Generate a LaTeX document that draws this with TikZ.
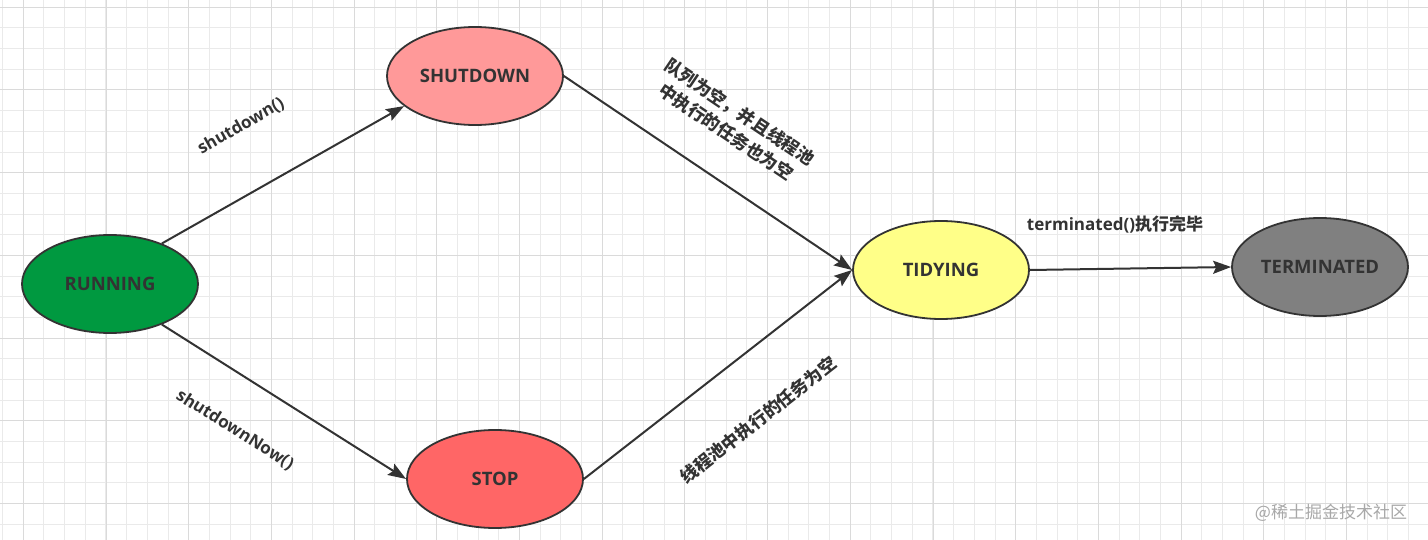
\documentclass[tikz,border=0pt]{standalone}
\usepackage{fontspec}
\setmainfont{Open Sans}
\newfontfamily\cjk{Noto Sans CJK SC}
\usetikzlibrary{arrows.meta,shapes.geometric}
\definecolor{linec}{HTML}{333333}
\definecolor{textc}{HTML}{333333}
\definecolor{cRun}{HTML}{009940}
\definecolor{cShut}{HTML}{FF9999}
\definecolor{cStop}{HTML}{FF6666}
\definecolor{cTidy}{HTML}{FFFF88}
\definecolor{cTerm}{HTML}{808080}
\definecolor{gridminor}{HTML}{EAEAEA}
\definecolor{gridmajor}{HTML}{DADADA}
\definecolor{wmc}{HTML}{A8A8A8}
\tikzset{
  stnode/.style={ellipse, draw=linec, line width=1.8pt, minimum width=176pt, minimum height=98pt,
    inner sep=0pt, text=textc, font=\bfseries\fontsize{18.5}{22}\selectfont},
  conn/.style={draw=linec, line width=2pt, -{Stealth[length=18pt,width=13pt,inset=3pt]}},
  lbl/.style={inner sep=0pt, text=textc, font=\bfseries\fontsize{17}{24}\selectfont},
  wm/.style={inner sep=0pt, text=wmc, font=\cjk\fontsize{17}{20}\selectfont},
  gminor/.style={draw=gridminor, line width=1pt},
  gmajor/.style={draw=gridmajor, line width=1pt}
}
\begin{document}
\begin{tikzpicture}[x=1pt,y=-1pt]
\useasboundingbox (0,0) rectangle (1428,540);
\begin{scope}
\clip (0,0) rectangle (1428,540);
\fill[white] (0,0) rectangle (1428,540);
\foreach \i in {0,...,69} {\pgfmathsetmacro\xx{2.6+20.675*\i}\draw[gminor] (\xx,0) -- (\xx,540);}
\foreach \j in {0,...,26} {\pgfmathsetmacro\yy{7.3+20.675*\j}\draw[gminor] (0,\yy) -- (1428,\yy);}
\foreach \i in {0,...,17} {\pgfmathsetmacro\xx{23.3+82.7*\i}\draw[gmajor] (\xx,0) -- (\xx,540);}
\foreach \j in {0,...,6} {\pgfmathsetmacro\yy{7.3+82.7*\j}\draw[gmajor] (0,\yy) -- (1428,\yy);}
\end{scope}

\node[stnode, fill=cRun] (run) at (110,284) {RUNNING};
\node[stnode, fill=cShut] (shut) at (475,76) {SHUTDOWN};
\node[stnode, fill=cStop] (stop) at (495,479) {STOP};
\node[stnode, fill=cTidy] (tidy) at (941,270) {TIDYING};
\node[stnode, fill=cTerm] (term) at (1320,267) {TERMINATED};

\draw[conn] (run.38) -- (shut.203);
\draw[conn] (run.-38) -- (stop.west);
\draw[conn] (shut.east) -- (tidy.west);
\draw[conn] (stop.east) -- (tidy.west);
\draw[conn] (tidy.east) -- (term.west);

\node[lbl, rotate=29.5] (l1) at (241,126) {shutdown()};
\node[lbl, rotate=-32] (l2) at (235,430) {shutdownNow()};
\node[lbl, rotate=-34, align=center, font=\cjk\bfseries\fontsize{17.5}{24}\selectfont] (l3) at (733,122) {队列为空，并且线程池\\中执行的任务也为空};
\node[lbl, rotate=38, font=\cjk\bfseries\fontsize{17.5}{24}\selectfont] (l4) at (758,420) {线程池中执行的任务为空};
\node[lbl] (l5) at (1115,224) {terminated(){\cjk 执行完毕}};
\node[wm] (wm) at (1331,513) {@稀土掘金技术社区};
\end{tikzpicture}
\end{document}
